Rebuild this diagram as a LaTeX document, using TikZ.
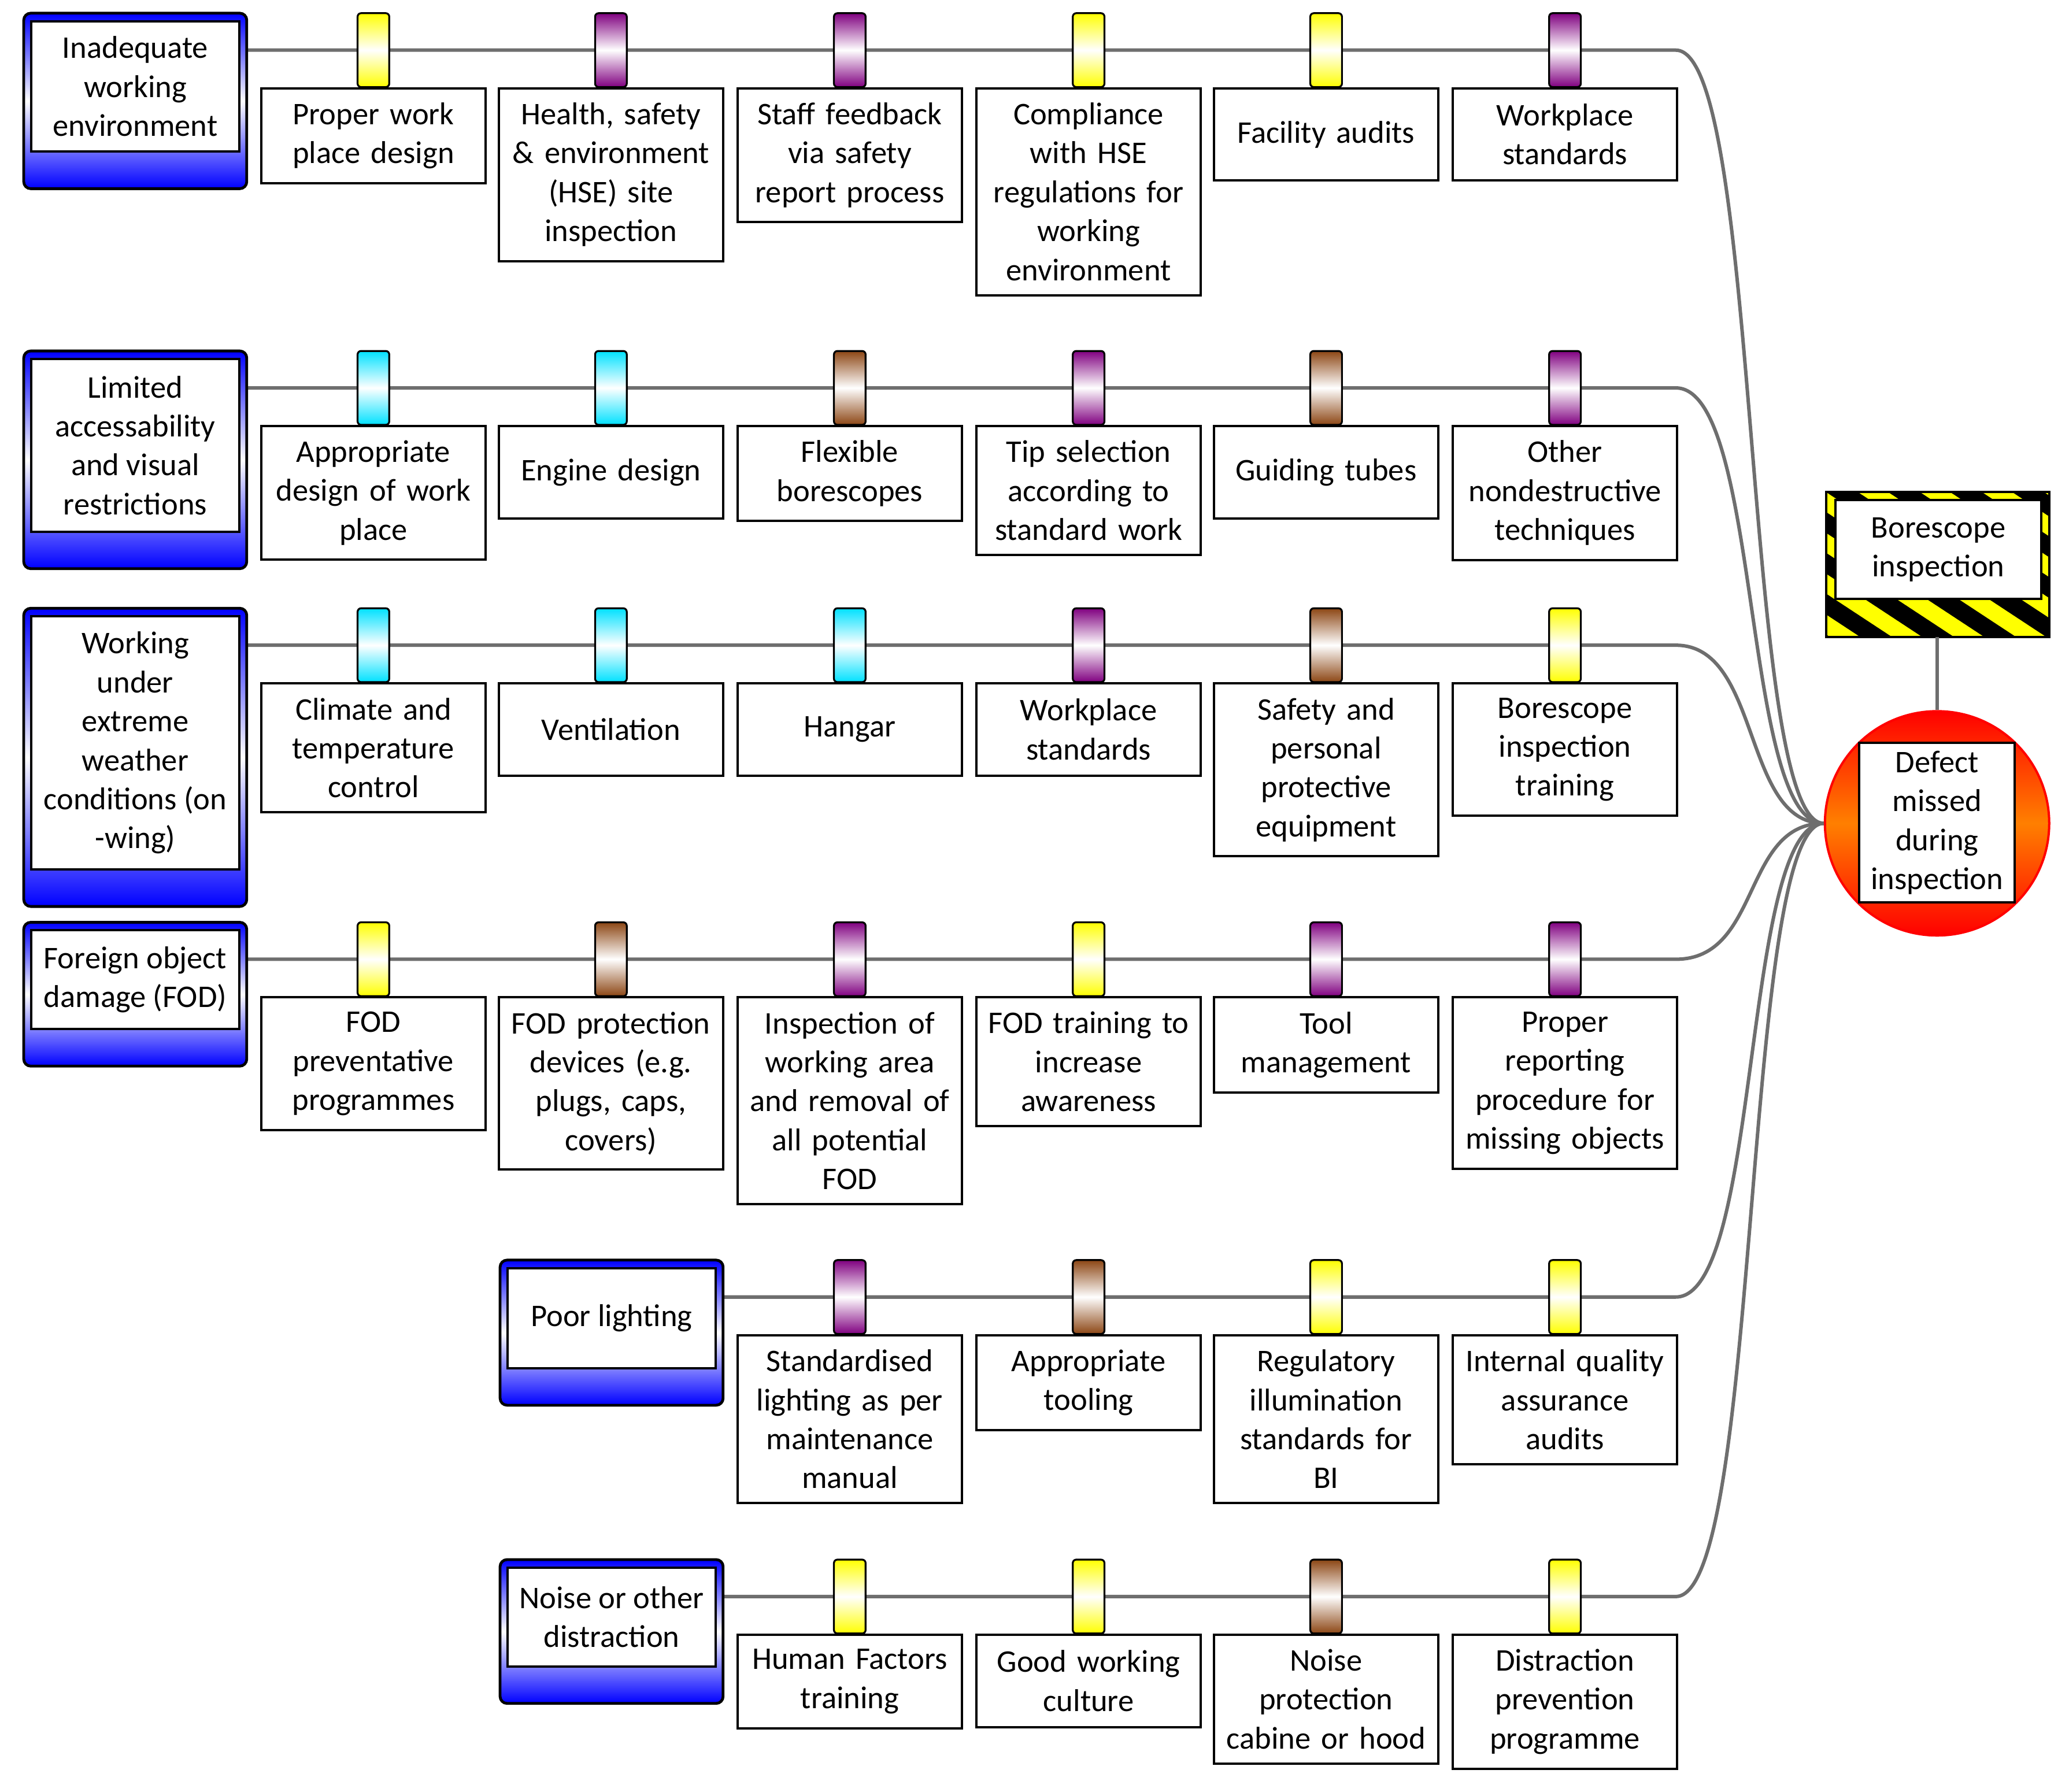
\documentclass[tikz,border=0pt]{standalone}
\usepackage{fontspec}
\setmainfont{Carlito}
\usetikzlibrary{positioning}
\definecolor{tabyellow}{RGB}{255,255,0}
\definecolor{tabpurple}{RGB}{128,0,128}
\definecolor{tabcyan}{RGB}{0,225,255}
\definecolor{tabbrown}{RGB}{140,70,20}
\definecolor{threatblue}{RGB}{0,0,255}
\definecolor{linegray}{RGB}{110,110,110}
\begin{document}
\hyphenpenalty=10000\relax
\exhyphenpenalty=10000\relax
\begin{tikzpicture}[x=0.02cm, y=-0.02cm, font=\fontsize{13.6}{16.8}\selectfont]
    \tikzset{
        threatbg/.style = {draw, line width=1.2pt, rounded corners=3pt, top color=threatblue, bottom color=threatblue, middle color=white},
        threat/.style = {rectangle, draw, line width=1pt, fill=white, align=center, inner sep=0pt},
        barrier/.style = {rectangle, draw, line width=1pt, fill=white, text width=3.24cm, inner xsep=0.08cm, inner ysep=0.22cm, minimum height=1.4cm, align=center, anchor=north},
        tab/.style = {rectangle, draw, line width=0.8pt, rounded corners=1.5pt, minimum width=0.48cm, minimum height=1.12cm, inner sep=0pt, top color=#1, bottom color=#1, middle color=white},
        line/.style = {draw=linegray, line width=1.5pt}
    }
    \useasboundingbox (0,0) rectangle (1568,1358);

    % top event and hazard
    \node[circle, draw=red, line width=1pt, minimum size=3.4cm, top color=red, bottom color=red, middle color=orange] (topev) at (1468,624) {};
    \node[threat, minimum width=2.36cm, minimum height=2.42cm] (topbox) at (1468,623.5) {Defect\\missed\\during\\inspection};
    \begin{scope}
        \clip (1384,373) rectangle (1553,483);
        \fill[tabyellow] (1384,373) rectangle (1553,483);
        \foreach \s in {-8,...,6}
            \fill[black] (1384+\s*47,373) -- ++(24,0) -- ++(190,125) -- ++(-24,0) -- cycle;
    \end{scope}
    \draw[line width=1pt] (1384,373) rectangle (1553,483);
    \node[threat, minimum width=3.12cm, minimum height=1.5cm] (hazard) at (1469,416.5) {Borescope\\inspection};
    \coordinate (hazbot) at (1468,483);
    \draw[line] (hazbot) -- (topev.north);

    % threats
    \foreach \name/\xa/\xb/\ya/\yb/\txt in {
        t1/18/187/10/143/{Inadequate\\working\\environment},
        t2/18/187/266/431/{Limited\\accessability\\and visual\\restrictions},
        t3/18/187/461/687/{Working\\under\\extreme\\weather\\conditions (on\\-wing)},
        t4/18/187/699/808/{Foreign object\\damage (FOD)},
        t5/379/548/955/1065/{Poor lighting},
        t6/379/548/1182/1291/{Noise or other\\distraction}}
    {
        \coordinate (\name-line) at (\xb,\ya+28);
        \coordinate (\name-bend) at (1270,\ya+28);
        \draw[line] (\name-line) -- (\name-bend) .. controls (1335,\ya+28) and (1320,624) .. (topev.west);
        \path[threatbg] (\xa,\ya) rectangle (\xb,\yb);
        \node[threat, minimum width={(\xb-\xa-11)*0.02cm}, minimum height={(\yb-\ya-34)*0.02cm}] (\name) at ({(\xa+\xb)/2},{(\ya+6+\yb-28)/2}) {\txt};
    }

    % barriers
    \foreach \row/\x/\y/\c/\txt in {
        1/283/38/tabyellow/{Proper work\\place design},
        1/463/38/tabpurple/{Health, safety\\\& environment\\(HSE) site\\inspection},
        1/644/38/tabpurple/{Staff feedback\\via safety\\report process},
        1/825/38/tabyellow/{Compliance\\with HSE\\regulations for\\working\\environment},
        1/1005/38/tabyellow/{Facility audits},
        1/1186/38/tabpurple/{Workplace\\standards},
        2/283/294/tabcyan/{Appropriate\\design of work\\place},
        2/463/294/tabcyan/{Engine design},
        2/644/294/tabbrown/{Flexible\\borescopes},
        2/825/294/tabpurple/{Tip selection\\according to\\standard work},
        2/1005/294/tabbrown/{Guiding tubes},
        2/1186/294/tabpurple/{Other\\nondestructive\\techniques},
        3/283/489/tabcyan/{Climate and\\temperature\\control},
        3/463/489/tabcyan/{Ventilation},
        3/644/489/tabcyan/{Hangar},
        3/825/489/tabpurple/{Workplace\\standards},
        3/1005/489/tabbrown/{Safety and\\personal\\protective\\equipment},
        3/1186/489/tabyellow/{Borescope\\inspection\\training},
        4/283/727/tabyellow/{FOD\\preventative\\programmes},
        4/463/727/tabbrown/{FOD protection\\devices (e.g.\\plugs, caps,\\covers)},
        4/644/727/tabpurple/{Inspection of\\working area\\and removal of\\all potential\\FOD},
        4/825/727/tabyellow/{FOD training to\\increase\\awareness},
        4/1005/727/tabpurple/{Tool\\management},
        4/1186/727/tabpurple/{Proper\\reporting\\procedure for\\missing objects},
        5/644/983/tabpurple/{Standardised\\lighting as per\\maintenance\\manual},
        5/825/983/tabbrown/{Appropriate\\tooling},
        5/1005/983/tabyellow/{Regulatory\\illumination\\standards for\\BI},
        5/1186/983/tabyellow/{Internal quality\\assurance\\audits},
        6/644/1210/tabyellow/{Human Factors\\training},
        6/825/1210/tabyellow/{Good working\\culture},
        6/1005/1210/tabbrown/{Noise\\protection\\cabine or hood},
        6/1186/1210/tabyellow/{Distraction\\prevention\\programme}}
    {
        \node[tab=\c] (tab-\row-\x) at (\x,\y) {};
        \node[barrier] (b-\row-\x) at (\x,\y+28) {\txt};
    }
\end{tikzpicture}
\end{document}
